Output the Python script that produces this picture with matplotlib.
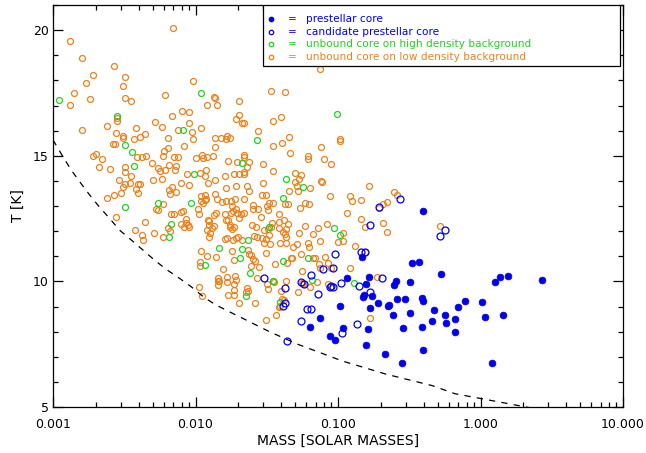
import matplotlib
matplotlib.use("Agg")
import matplotlib.pyplot as plt
from matplotlib.ticker import LogLocator, MultipleLocator, NullFormatter
from matplotlib.patches import Rectangle

# colours of the four classes
BLUE = "#0000ee"
GREEN = "#22d022"
ORANGE = "#e8821e"

# unbound cores on low density background (mass in Msun, T in K)
orange_mass = [
    0.00131, 0.00160, 0.00270, 0.00191, 0.00319, 0.00170, 0.00309, 0.00141, 0.00131, 0.00181,
    0.00318, 0.00350, 0.00693, 0.00957, 0.00615, 0.0135, 0.0136, 0.0121, 0.0142, 0.0203,
    0.00281, 0.00281, 0.00685, 0.00801, 0.00902, 0.0191, 0.0203, 0.0211, 0.00518, 0.00240,
    0.00160, 0.00277, 0.00309, 0.00309, 0.00380, 0.00439, 0.00368, 0.00409, 0.00586, 0.00642,
    0.00759, 0.00897, 0.00946, 0.00957, 0.0110, 0.0137, 0.0151, 0.0166, 0.0176, 0.0163,
    0.0742, 0.0338, 0.0424, 0.0220, 0.0348, 0.0400, 0.0273, 0.0455, 0.103,
    0.00263, 0.00272, 0.00191, 0.00201, 0.00220, 0.00390, 0.00420, 0.00448, 0.00599, 0.00639,
    0.00701, 0.00752, 0.00596, 0.00836, 0.0100, 0.0111, 0.0112, 0.0120, 0.0132, 0.0137,
    0.0169, 0.0195, 0.00209, 0.00250, 0.00321, 0.00318, 0.00496, 0.00547, 0.00559, 0.00609,
    0.00650, 0.00724, 0.00719, 0.00350, 0.00290, 0.00319, 0.00309, 0.00348, 0.00394, 0.00405,
    0.00380, 0.00398, 0.00301, 0.00270, 0.00240, 0.00504, 0.00583, 0.00682, 0.00656, 0.00663,
    0.00724, 0.00785, 0.00902, 0.00869, 0.0107, 0.0119, 0.0117, 0.0122, 0.0136, 0.0161,
    0.0185, 0.0203, 0.0165, 0.0192, 0.0109, 0.0116, 0.0119, 0.0116, 0.0109, 0.0112,
    0.0136, 0.0141, 0.0154, 0.0164, 0.0177, 0.0180, 0.0183, 0.0177, 0.0189, 0.0191,
    0.0195, 0.0203, 0.0208, 0.00527, 0.00547, 0.00590, 0.00814, 0.00793, 0.0104, 0.0105,
    0.00671, 0.00701, 0.0140, 0.0134, 0.0122, 0.0125, 0.0160, 0.0163, 0.0170, 0.0175,
    0.00277, 0.00439, 0.00851, 0.00860, 0.00887, 0.00902, 0.00827, 0.00789, 0.00642, 0.00663,
    0.00377, 0.00418, 0.00427, 0.00510, 0.00590, 0.0121, 0.0126, 0.0124, 0.0131, 0.0134,
    0.0125, 0.0160, 0.0167, 0.0179, 0.0175, 0.0185, 0.0192, 0.0200, 0.0212, 0.0182,
    0.0109, 0.0121, 0.0140, 0.0108, 0.0108, 0.0155, 0.0185, 0.0180,
    0.0105, 0.0111, 0.0143, 0.0144, 0.0147, 0.0143, 0.0167, 0.0167, 0.0188, 0.0192,
    0.0186, 0.0186, 0.0168, 0.0186, 0.0203,
    0.0352, 0.0406, 0.0762, 0.103, 0.0459, 0.0618, 0.0620, 0.0804, 0.0886, 0.0220,
    0.0220, 0.0236, 0.0229, 0.0218, 0.0218, 0.0296, 0.0349, 0.0496, 0.0552, 0.0535,
    0.0502, 0.0516, 0.0757, 0.0769, 0.164, 0.0229, 0.0236, 0.0296, 0.0452, 0.0527,
    0.0634, 0.0291, 0.0312, 0.0220, 0.0881, 0.122, 0.125, 0.145, 0.248, 0.261,
    0.220, 0.207, 0.194, 0.0252, 0.0274, 0.0252, 0.0317, 0.0321, 0.0326, 0.0352,
    0.0427, 0.0443, 0.0589, 0.0628, 0.0540, 0.0218, 0.0383, 0.0288, 0.0342, 0.0338,
    0.0388, 0.0417, 0.0445, 0.0431, 0.0408, 0.0388, 0.0427, 0.0431, 0.0582, 0.0673,
    0.0722, 0.0840, 0.115, 0.144, 0.155, 0.206, 0.219, 0.0249, 0.0267, 0.0304,
    0.0321, 0.0259, 0.0269, 0.0292, 0.0312, 0.0326, 0.0535, 0.109, 0.108, 0.0992,
    0.0745, 0.0620, 0.0628, 0.0519, 0.0485, 0.0391, 0.0431, 0.0335, 0.0304, 0.132,
    0.154, 0.0232, 0.0239, 0.0245, 0.0311, 0.0549, 0.0469, 0.0476, 0.0673, 0.0690,
    0.0813, 0.0252, 0.0262, 0.0246, 0.0280, 0.0363, 0.0442, 0.0847, 0.0731, 0.0745,
    0.0894, 0.122, 0.0561,
    0.0269, 0.0231, 0.0232, 0.0226, 0.0315, 0.0324, 0.0353, 0.0352, 0.0431, 0.0397,
    0.0527, 0.0559, 0.0569, 0.0641, 0.0718, 0.0847, 0.189, 0.0261, 0.0406, 0.0417,
    0.0391, 0.0385, 0.0367, 0.0310, 0.169, 0.522,
]
orange_temp = [
    19.58, 18.90, 18.58, 18.23, 18.15, 17.91, 17.78, 17.51, 17.02, 17.25,
    17.31, 17.18, 20.10, 17.99, 17.43, 17.34, 17.29, 17.01, 17.02, 17.19,
    16.49, 16.39, 16.58, 16.78, 16.74, 16.47, 16.61, 16.30, 16.36, 16.17,
    16.01, 15.91, 15.79, 15.72, 16.09, 15.88, 15.67, 15.73, 16.13, 15.71,
    16.04, 16.29, 15.93, 15.67, 16.10, 15.72, 15.69, 15.79, 15.72, 15.67,
    18.44, 17.59, 17.55, 16.29, 16.39, 16.54, 15.99, 15.75, 15.65,
    15.47, 15.47, 15.00, 15.08, 14.87, 14.96, 14.94, 14.98, 15.19, 15.31,
    14.96, 14.96, 15.00, 15.39, 14.90, 15.04, 14.90, 14.94, 14.99, 15.36,
    14.80, 14.75, 14.56, 14.47, 14.54, 14.35, 14.72, 14.50, 14.38, 14.45,
    14.63, 14.60, 14.43, 14.19, 14.02, 13.89, 13.74, 13.93, 13.86, 13.86,
    13.66, 13.52, 13.53, 13.44, 13.33, 14.05, 14.06, 13.74, 13.64, 13.47,
    13.56, 13.90, 13.85, 14.26, 14.30, 14.43, 14.21, 13.90, 14.03, 14.21,
    14.27, 14.26, 13.70, 13.78, 13.41, 13.43, 13.29, 13.23, 13.19, 13.11,
    13.48, 13.27, 13.15, 13.19, 13.21, 13.01, 12.81, 12.71, 13.27, 12.87,
    12.73, 12.53, 12.68, 12.89, 12.84, 13.07, 12.81, 12.76, 12.87, 12.69,
    12.68, 12.67, 12.71, 12.64, 12.45, 12.39, 12.68, 12.45, 12.44, 12.23,
    12.56, 12.35, 12.48, 12.34, 12.24, 12.15, 12.15, 12.28, 12.13, 12.02,
    12.03, 11.86, 11.63, 11.94, 11.78, 12.04, 11.94, 11.77, 12.14, 12.19,
    12.24, 11.67, 11.74, 12.07, 12.15, 12.15, 11.74, 11.78, 11.63, 11.65,
    11.21, 11.02, 10.97, 10.78, 10.62, 10.50, 10.84, 11.20,
    9.79, 9.43, 10.15, 10.03, 10.03, 9.86, 10.19, 9.99, 10.21, 10.05,
    9.88, 9.66, 9.46, 9.46, 9.15,
    15.38, 15.52, 15.34, 15.59, 15.12, 15.00, 14.86, 14.86, 14.67, 15.03,
    14.94, 14.74, 14.56, 14.34, 14.26, 14.67, 14.40, 14.31, 14.22, 14.09,
    13.97, 13.81, 14.01, 13.97, 13.81, 13.80, 13.61, 13.90, 13.61, 13.60,
    13.73, 13.43, 13.45, 13.29, 13.40, 13.40, 13.21, 13.25, 13.55, 13.43,
    13.17, 13.08, 12.93, 13.03, 12.87, 12.87, 13.01, 12.85, 13.13, 13.12,
    13.09, 13.09, 13.11, 13.09, 12.93, 12.71, 12.68, 12.57, 12.34, 12.15,
    12.38, 12.44, 12.27, 12.07, 11.97, 12.11, 11.89, 11.78, 12.20, 11.87,
    12.14, 12.30, 12.71, 12.48, 12.18, 12.32, 11.98, 12.24, 12.15, 12.04,
    12.07, 11.81, 11.78, 11.74, 11.70, 11.86, 11.94, 11.94, 11.62, 11.58,
    11.61, 11.52, 11.38, 11.48, 11.36, 11.53, 11.53, 11.49, 11.52, 11.42,
    11.18, 11.25, 11.09, 11.04, 11.12, 11.10, 10.94, 10.92, 10.94, 10.92,
    10.98, 10.88, 10.82, 10.61, 10.57, 10.68, 10.74, 10.72, 10.69, 10.53,
    10.54, 10.52, 10.42,
    10.12, 9.72, 9.63, 9.59, 9.88, 9.68, 9.96, 10.01, 10.03, 9.63,
    9.59, 9.94, 9.90, 9.79, 9.99, 9.91, 10.17, 9.15, 9.30, 9.25,
    9.03, 8.99, 8.67, 8.45, 8.55, 12.21,
]

# unbound cores on high density background
green_mass = [
    0.00110, 0.00281, 0.0110, 0.00812, 0.0981, 0.0269, 0.00318, 0.00359, 0.00368, 0.0212,
    0.00983, 0.00547, 0.00925, 0.00318, 0.00674, 0.00656, 0.0146, 0.0206, 0.0212, 0.0116,
    0.0431, 0.0571, 0.0408, 0.0330, 0.0940, 0.104, 0.0232, 0.0620, 0.0408, 0.0242,
    0.0348, 0.0655, 0.0225, 0.0394, 0.129,
]
green_temp = [
    17.21, 16.58, 17.51, 16.03, 16.67, 15.64, 15.42, 15.15, 14.58, 14.72,
    14.26, 13.11, 13.11, 12.97, 12.27, 11.75, 11.32, 10.94, 11.29, 10.65,
    14.07, 13.77, 13.33, 12.18, 12.12, 11.85, 11.65, 10.94, 10.81, 10.35,
    10.01, 10.07, 9.43, 9.17, 9.94,
]

# candidate prestellar cores
cand_mass = [
    0.0301, 0.0643, 0.105, 0.0897, 0.0926, 0.0877, 0.141, 0.169, 0.203, 0.0721,
    0.0578, 0.0548, 0.0427, 0.0413, 0.0424, 0.0603, 0.0643, 0.0552, 0.137, 0.106,
    0.0442, 0.273, 0.195, 0.167, 0.0950, 0.146, 0.155, 0.0926, 0.0789, 0.561,
    0.517,
]
cand_temp = [
    10.15, 10.25, 9.95, 9.82, 9.78, 9.78, 9.83, 9.59, 10.15, 9.50,
    9.88, 9.99, 9.72, 9.03, 9.15, 8.89, 8.89, 8.42, 8.30, 7.93,
    7.63, 13.27, 12.96, 12.24, 11.10, 11.17, 11.17, 10.54, 10.48, 12.04,
    11.79,
]

# prestellar cores
pre_mass = [
    0.398, 0.372, 0.333, 0.531, 1.26, 1.36, 1.56, 2.69, 0.389, 0.398,
    0.475, 0.566, 0.572, 0.661, 0.657, 0.698, 0.773, 1.03, 1.08, 1.45,
    0.455, 0.389, 0.398, 1.20, 0.115, 0.164, 0.255, 0.247, 0.320, 0.157,
    0.150, 0.153, 0.174, 0.258, 0.294, 0.191, 0.225, 0.229, 0.167, 0.104,
    0.0753, 0.320, 0.244, 0.0636, 0.109, 0.162, 0.287, 0.0876, 0.0956, 0.158,
    0.212, 0.283, 0.147,
]
pre_temp = [
    12.82, 10.77, 10.74, 10.31, 9.97, 10.17, 10.21, 10.04, 9.35, 9.23,
    8.86, 8.67, 8.34, 8.49, 7.97, 8.97, 9.23, 9.16, 8.57, 8.68,
    8.41, 8.17, 7.28, 6.74, 10.15, 10.17, 10.03, 9.86, 9.99, 9.90,
    9.39, 9.46, 9.43, 9.30, 9.30, 9.14, 9.02, 9.05, 8.95, 9.03,
    8.55, 8.74, 8.65, 8.17, 8.13, 8.10, 8.16, 7.83, 7.65, 7.47,
    7.12, 6.74, 10.98,
]

# dashed curve
line_mass = [0.001, 0.001175, 0.001343, 0.001538, 0.001807, 0.002123, 0.002495, 0.002931,
             0.00354, 0.004266, 0.005152, 0.006223, 0.007727, 0.009311, 0.01156, 0.01393,
             0.0173, 0.02143, 0.03296, 0.052, 0.1074, 0.2163, 0.4592, 0.6607, 1.914, 2.6]
line_temp = [15.63, 14.96, 14.43, 13.97, 13.44, 12.95, 12.51, 12.04, 11.65, 11.25, 10.85,
             10.48, 10.12, 9.79, 9.35, 9.06, 8.79, 8.53, 8.00, 7.50, 6.83, 6.31, 5.85,
             5.53, 5.04, 4.90]

xtick_vals = [0.001, 0.01, 0.1, 1, 10]
xtick_labels = ["0.001", "0.010", "0.100", "1.000", "10.000"]
ytick_vals = [5, 10, 15, 20]

legend_labels = ["prestellar core", "candidate prestellar core",
                 "unbound core on high density background",
                 "unbound core on low density background"]

fig = plt.figure(figsize=(6.46, 4.53), dpi=100)
ax = fig.add_axes([53 / 646, 46 / 453, 570 / 646, 402 / 453])

ax.plot(orange_mass, orange_temp, "o", ls="none", ms=4.3, mfc="none", mec=ORANGE, mew=0.9)
ax.plot(green_mass, green_temp, "o", ls="none", ms=4.3, mfc="none", mec=GREEN, mew=0.9)
ax.plot(cand_mass, cand_temp, "o", ls="none", ms=5.0, mfc="none", mec=BLUE, mew=0.9)
ax.plot(pre_mass, pre_temp, "o", ls="none", ms=4.9, mfc=BLUE, mec=BLUE, mew=0.5)
ax.plot(line_mass, line_temp, color="black", lw=0.9, ls=(0, (5, 5)))

ax.set_xscale("log")
ax.set_xlim(0.001, 10)
ax.set_ylim(5, 21)
ax.set_xticks(xtick_vals)
ax.set_xticklabels(xtick_labels)
ax.xaxis.set_minor_locator(LogLocator(base=10, subs=range(2, 10)))
ax.xaxis.set_minor_formatter(NullFormatter())
ax.set_yticks(ytick_vals)
ax.yaxis.set_minor_locator(MultipleLocator(1))
ax.tick_params(which="both", direction="in", top=True, right=True, width=0.9, labelsize=9)
ax.tick_params(which="major", length=7)
ax.tick_params(which="minor", length=3.5)
ax.tick_params(axis="x", pad=8)
ax.tick_params(axis="y", pad=3)
for s in ax.spines.values():
    s.set_linewidth(0.9)

ax.set_xlabel("MASS [SOLAR MASSES]", fontsize=10, labelpad=2)
ax.set_ylabel("T [K]", fontsize=10, labelpad=6)

# legend box drawn by hand
ax.add_patch(Rectangle((0.368, 0.849), 0.627, 0.151, transform=ax.transAxes,
                       facecolor="white", edgecolor="black", lw=0.9, zorder=5))
rows_y = [0.964, 0.933, 0.902, 0.870]
leg_colors = [BLUE, BLUE, GREEN, ORANGE]
leg_fill = [BLUE, "none", "none", "none"]
for yy, lab, c, fc in zip(rows_y, legend_labels, leg_colors, leg_fill):
    ax.plot([0.382], [yy], "o", ms=3.2, mfc=fc, mec=c, mew=0.9,
            transform=ax.transAxes, zorder=6, clip_on=False)
    ax.text(0.419, yy, "=", color=c, fontsize=7.6, ha="center", va="center",
            transform=ax.transAxes, zorder=6)
    ax.text(0.443, yy, lab, color=c, fontsize=7.6, ha="left", va="center",
            transform=ax.transAxes, zorder=6)

fig.savefig("out.png", dpi=100)
